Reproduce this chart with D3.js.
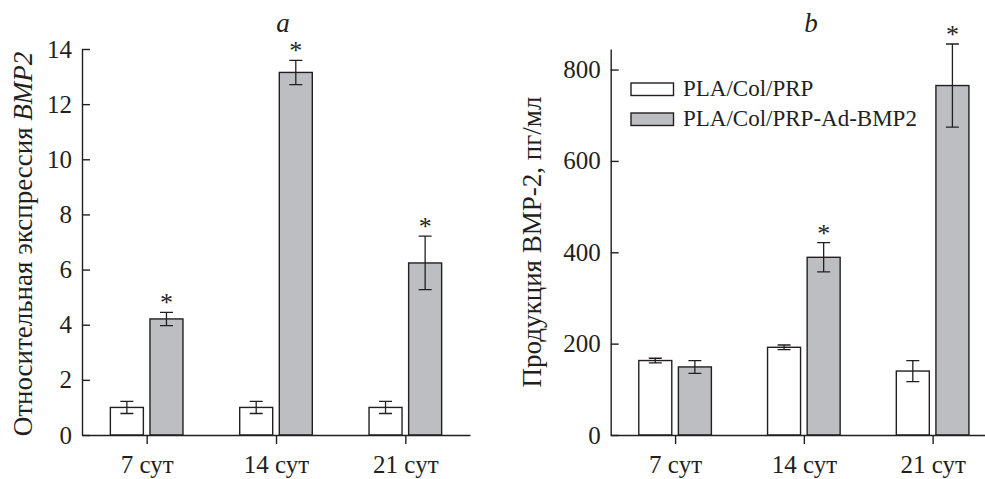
<!DOCTYPE html>
<html>
<head>
<meta charset="utf-8">
<script src="https://cdn.jsdelivr.net/npm/d3@7"></script>
<style>
  body { margin: 0; background: #fff; }
  svg { display: block; }
  text { font-family: "Liberation Serif", "Times New Roman", serif; fill: #231f20; }
</style>
</head>
<body>
<svg id="chart" width="985" height="479"></svg>
<script>
// Categories and series
const days = ['7 сут', '14 сут', '21 сут'];
const seriesNames = ['PLA/Col/PRP', 'PLA/Col/PRP-Ad-BMP2'];

// Panel a: relative BMP2 expression
const exprCtrl = [1.0, 1.0, 1.0];
const exprCtrlErr = [0.22, 0.22, 0.22];
const exprBmp = [4.21, 13.15, 6.24];
const exprBmpErr = [0.24, 0.44, 0.97];
const exprStar = [true, true, true];
const exprTicks = [0, 2, 4, 6, 8, 10, 12, 14];

// Panel b: BMP-2 production, pg/ml
const prodCtrl = [163, 192, 140];
const prodCtrlErr = [5, 5, 23];
const prodBmp = [149, 389, 765];
const prodBmpErr = [14, 32, 91];
const prodStar = [false, true, true];
const prodTicks = [0, 200, 400, 600, 800];

const fills = ['#ffffff', '#bdbec2'];
const ink = '#231f20';
const svg = d3.select('#chart');

function panel(opt) {
  const g = svg.append('g');
  const y = d3.scaleLinear().domain(opt.domain).range([435, 49]);
  const x = d3.scalePoint().domain(days).range([opt.left, opt.right]).padding(0.5);

  const barW = 33, gap = 3.3;

  const groups = [
    { vals: opt.ctrl, err: opt.ctrlErr, off: -gap - barW, fill: fills[0], star: [false, false, false] },
    { vals: opt.bmp, err: opt.bmpErr, off: gap, fill: fills[1], star: opt.star }
  ];
  groups.forEach(s => {
    const gg = g.append('g');
    gg.selectAll('rect').data(days).join('rect')
      .attr('x', d => x(d) + s.off)
      .attr('y', (d, i) => y(s.vals[i]))
      .attr('width', barW)
      .attr('height', (d, i) => y(0) - y(s.vals[i]))
      .attr('fill', s.fill)
      .attr('stroke', ink)
      .attr('stroke-width', 1.4);

    // error bars
    days.forEach((d, i) => {
      const cx = x(d) + s.off + barW / 2;
      const hi = y(s.vals[i] + s.err[i]), lo = y(s.vals[i] - s.err[i]);
      gg.append('path')
        .attr('d', `M${cx},${hi}V${lo}M${cx - 6.5},${hi}H${cx + 6.5}M${cx - 6.5},${lo}H${cx + 6.5}`)
        .attr('stroke', ink).attr('stroke-width', 1.3).attr('fill', 'none');
      if (s.star[i]) {
        gg.append('text')
          .attr('x', cx).attr('y', hi - 1)
          .attr('text-anchor', 'middle')
          .attr('font-size', 26)
          .text('*');
      }
    });
  });

  // axes
  const yAxis = d3.axisLeft(y).tickValues(opt.ticks).tickSize(-8).tickSizeOuter(0).tickPadding(10);
  const ya = g.append('g').attr('transform', `translate(${opt.left},0)`).call(yAxis);
  const xAxis = d3.axisBottom(x).tickSize(9).tickSizeOuter(0).tickPadding(11);
  const xa = g.append('g').attr('transform', 'translate(0,435)').call(xAxis);
  [ya, xa].forEach(a => {
    a.attr('font-family', null).attr('font-size', null);
    a.select('.domain').attr('stroke', ink).attr('stroke-width', 1.4);
    a.selectAll('.tick line').attr('stroke', ink).attr('stroke-width', 1.4);
    a.selectAll('.tick text').attr('font-size', 25).attr('fill', ink);
  });

  // y label
  g.append('text')
    .attr('transform', `translate(${opt.labelX},${opt.labelY}) rotate(-90)`)
    .attr('text-anchor', 'middle')
    .attr('font-size', 27)
    .call(opt.label);

  // panel letter
  g.append('text')
    .attr('x', opt.letterX).attr('y', 32)
    .attr('text-anchor', 'middle')
    .attr('font-size', 27)
    .attr('font-style', 'italic')
    .text(opt.letter);
}

panel({
  left: 82, right: 470, domain: [0, 14], ticks: exprTicks,
  ctrl: exprCtrl, ctrlErr: exprCtrlErr, bmp: exprBmp, bmpErr: exprBmpErr,
  star: exprStar,
  labelX: 32, labelY: 244, letter: 'a', letterX: 283,
  label: t => {
    t.append('tspan').text('Относительная экспрессия ');
    t.append('tspan').attr('font-style', 'italic').text('BMP2');
  }
});

panel({
  left: 610.7, right: 997, domain: [0, 845], ticks: prodTicks,
  ctrl: prodCtrl, ctrlErr: prodCtrlErr, bmp: prodBmp, bmpErr: prodBmpErr,
  star: prodStar,
  labelX: 541, labelY: 242, letter: 'b', letterX: 811,
  label: t => t.text('Продукция BMP-2, пг/мл')
});

// legend
const legend = svg.append('g').attr('transform', 'translate(631,83)');
seriesNames.forEach((name, i) => {
  legend.append('rect')
    .attr('x', 0).attr('y', i * 30)
    .attr('width', 42.5).attr('height', 12.5)
    .attr('fill', fills[i]).attr('stroke', ink).attr('stroke-width', 1.4);
  legend.append('text')
    .attr('x', 52).attr('y', i * 30 + 13)
    .attr('font-size', 23)
    .text(name);
});
</script>
</body>
</html>
